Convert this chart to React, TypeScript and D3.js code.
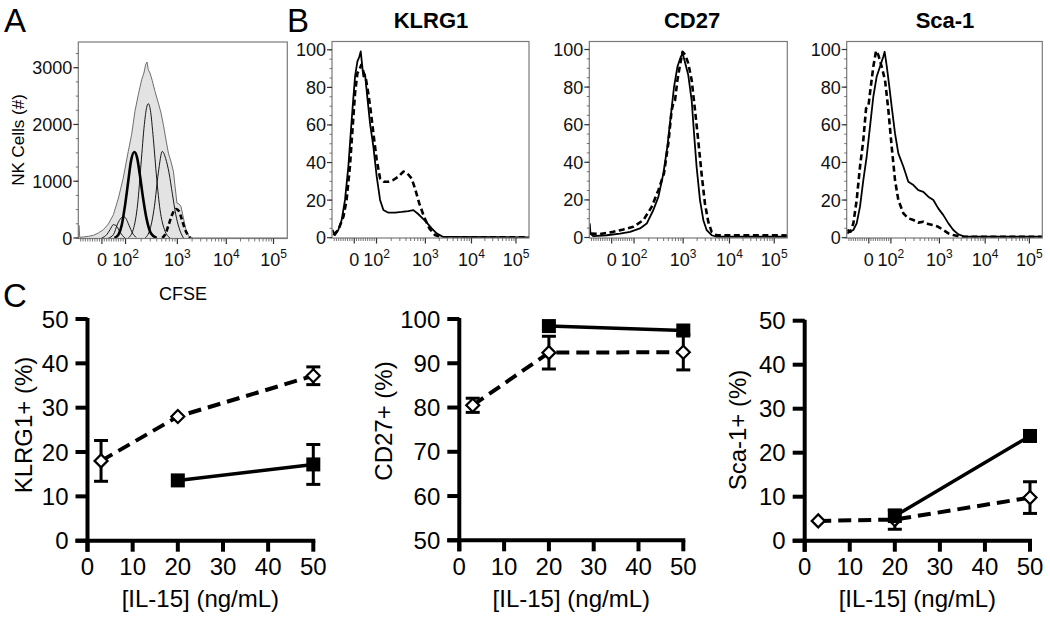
import React from "react";
import * as d3 from "d3";

type Pt = [number, number];
const FONT = "'Liberation Sans', Arial, Helvetica, sans-serif";

// ---------- Flow cytometry axis (biexponential display) ----------
const decadeLabels = [
  { base: "0", exp: "" },
  { base: "10", exp: "2" },
  { base: "10", exp: "3" },
  { base: "10", exp: "4" },
  { base: "10", exp: "5" },
];
const decadeValues = [0, 1e2, 1e3, 1e4, 1e5];
// display position (% of axis width) of each decade label
const decadeDisplay = [11.3, 22.6, 47.4, 70.8, 93.4];

// ---------- Panel A: CFSE (x in % of axis, y in cells) ----------
const cfseTotal: Pt[] = [[0,0],[0.3,223],[0.7,12],[2.4,18],[4.8,29],[7.2,47],[9.6,88],[12.0,147],[14.4,247],[16.8,411],[19.2,704],[21.5,1057],[23.9,1526],[25.5,1820],[27.1,2231],[28.7,2524],[30.3,2788],[31.4,2906],[32.2,3052],[32.9,3099],[33.5,2964],[34.3,2906],[35.4,2771],[36.7,2583],[38.3,2377],[39.6,2201],[40.7,1996],[41.8,1761],[43.1,1497],[44.4,1338],[45.5,1174],[46.3,910],[47.2,616],[48.2,599],[49.1,558],[50.3,352],[51.5,147],[52.9,29],[55.0,0],[100,0]];
const cfseGen5: Pt[] = [[11.2,0],[13.6,59],[15.2,147],[16.8,235],[18.4,205],[20.0,100],[22.3,0]];
const cfseGen4: Pt[] = [[14.4,0],[16.8,59],[18.8,250],[20.4,350],[21.5,382],[22.7,350],[24.3,220],[25.9,90],[27.9,0]];
const cfseGen3: Pt[] = [[17.3,0],[19.2,60],[20.8,230],[22.3,560],[23.9,1000],[25.2,1350],[26.8,1514],[28.1,1420],[29.5,1100],[31.0,700],[32.6,350],[34.8,80],[37.5,0]];
const cfseGen2: Pt[] = [[23.9,0],[26.3,150],[28.4,600],[30.0,1300],[31.6,2000],[32.7,2300],[33.5,2366],[34.5,2250],[35.9,1750],[37.5,1050],[39.1,500],[41.2,150],[43.9,0]];
const cfseGen1: Pt[] = [[31.9,0],[34.3,150],[36.4,550],[38.3,1150],[40.2,1526],[41.8,1400],[43.4,1150],[45.0,780],[46.6,420],[48.2,180],[50.3,0]];
const cfseGen0: Pt[] = [[40.2,0],[41.8,80],[43.4,250],[45.0,420],[46.8,510],[48.2,470],[49.5,330],[51.1,150],[53.5,0]];

// ---------- Panel B: histograms (% of max) ----------
const klrg1Solid: Pt[] = [[0.3,4.1],[1.5,1.4],[3.2,4.1],[4.9,9.4],[6.6,20.1],[8.3,37.8],[9.5,55.6],[10.5,69.8],[11.7,85.8],[12.9,93.8],[13.9,96.4],[14.6,99.1],[15.2,92.9],[15.9,85.8],[16.8,86.7],[17.9,75.1],[19.3,60.9],[21.0,48.5],[22.7,32.5],[24.4,20.1],[26.1,14.7],[28.6,13.3],[32.0,13.3],[35.4,13.7],[38.7,14.2],[41.3,14.7],[43.3,13.0],[45.5,10.8],[48.1,8.0],[50.6,5.0],[53.1,2.3],[56.5,0.4],[100,0.2]];
const klrg1Dashed: Pt[] = [[0.7,1.4],[3.2,4.1],[5.8,11.2],[7.4,20.1],[9.1,37.8],[10.5,59.1],[11.7,76.9],[12.9,87.6],[13.9,89.3],[14.9,92.0],[15.9,88.5],[17.3,84.0],[18.4,76.9],[19.6,68.0],[21.0,55.6],[22.7,41.4],[24.4,31.6],[26.4,29.8],[28.6,29.8],[31.1,30.7],[33.7,32.5],[36.2,35.2],[38.2,34.3],[40.4,31.6],[42.1,26.3],[44.3,18.3],[46.7,11.2],[49.4,5.0],[52.3,1.4],[55.7,0.2],[100,0.2]];
const cd27Solid: Pt[] = [[0.2,7.5],[0.6,2.0],[2.0,0.7],[8.8,1.2],[15.5,2.1],[20.6,3.0],[25.6,4.8],[29.0,7.4],[32.3,14.5],[34.9,21.6],[37.4,34.0],[39.4,48.2],[41.1,64.2],[42.8,80.1],[44.5,90.8],[46.2,96.1],[47.1,97.9],[48.3,93.4],[50.0,86.3],[51.7,73.0],[52.9,55.3],[54.2,37.6],[55.9,19.9],[57.6,9.2],[59.3,3.9],[61.8,1.2],[64.3,0.4],[100,0.4]];
const cd27Dashed: Pt[] = [[0.7,2.1],[5.4,1.8],[12.1,3.0],[17.2,4.3],[22.2,5.7],[27.3,9.2],[31.5,16.3],[34.9,25.2],[37.7,34.0],[39.9,50.0],[41.6,67.7],[42.4,71.3],[43.3,73.0],[44.5,83.7],[45.8,91.7],[47.1,98.8],[48.5,97.0],[50.0,92.6],[51.7,83.7],[53.4,67.7],[55.0,51.8],[56.7,34.0],[58.4,18.1],[60.1,8.3],[61.8,3.0],[64.3,1.2],[100,1.1]];
const sca1Solid: Pt[] = [[0.3,2.3],[1.7,3.2],[3.4,4.1],[5.1,7.6],[6.8,16.5],[8.5,30.6],[10.2,43.0],[11.9,58.9],[13.6,74.9],[15.3,85.5],[17.0,90.8],[18.7,96.1],[19.4,98.8],[20.4,91.7],[21.6,81.9],[23.0,69.6],[24.7,55.4],[26.4,44.8],[29.0,37.7],[31.5,29.7],[34.1,28.0],[36.6,25.3],[39.2,24.4],[41.7,21.8],[44.3,20.0],[46.8,15.6],[49.4,12.0],[52.0,7.6],[54.5,4.1],[57.1,1.8],[60.5,0.5],[100,0.5]];
const sca1Dashed: Pt[] = [[0.3,4.1],[2.0,3.2],[3.4,7.6],[5.1,20.0],[6.8,37.7],[8.5,51.9],[9.9,68.7],[11.1,69.9],[12.3,80.2],[13.6,90.8],[15.0,99.3],[16.2,97.0],[17.9,90.8],[19.6,83.7],[21.3,67.8],[23.0,48.3],[24.7,30.6],[26.4,20.0],[29.0,12.9],[31.5,10.3],[34.1,9.4],[36.6,8.0],[39.2,8.5],[41.7,7.3],[44.3,6.7],[46.8,5.8],[49.4,4.1],[52.0,2.3],[54.5,1.4],[58.0,0.5],[100,0.5]];

const yTicksA = [0, 1000, 2000, 3000];
const yTicksB = [0, 20, 40, 60, 80, 100];

// ---------- Panel C: dose response ----------
const doseOpen = [3, 20, 50];
const doseFilled = [20, 50];
const klrg1OpenMean = [18.0, 28.0, 37.2];
const klrg1OpenErr = [4.6, 0, 2.0];
const klrg1FilledMean = [13.6, 17.2];
const klrg1FilledErr = [0, 4.5];
const cd27OpenMean = [80.5, 92.4, 92.5];
const cd27OpenErr = [1.6, 3.7, 4.0];
const cd27FilledMean = [98.4, 97.4];
const cd27FilledErr = [0, 0];
const sca1OpenMean = [4.5, 4.8, 9.8];
const sca1OpenErr = [0, 2.2, 3.6];
const sca1FilledMean = [5.6, 23.8];
const sca1FilledErr = [0, 0];
const doseTicks = [0, 10, 20, 30, 40, 50];
const pctTicks50 = [0, 10, 20, 30, 40, 50];
const pctTicks100 = [50, 60, 70, 80, 90, 100];

// ---------- helpers ----------
const toDecadeUnit = (v: number) => (v <= 100 ? v / 100 : 1 + Math.log10(v / 100));
const displayScale = d3.scaleLinear().domain([0, 1, 2, 3, 4]).range(decadeDisplay);

const minorVals = [
  ...d3.range(-90, 100, 10).filter((v) => v !== 0),
  ...d3.range(200, 1000, 100),
  ...d3.range(2000, 10000, 1000),
  ...d3.range(20000, 100000, 10000),
];

type Curve = { data: Pt[]; width: number; dash?: string; color?: string; fill?: string; curve?: any };

function FlowPanel(props: {
  id: string; x0: number; x1: number; top: number; bottom: number;
  yZero: number; yRefPx: number; yRefVal: number; yTicks: number[]; yMinorStep: number;
  curves: Curve[]; title?: string; titleX?: number;
}) {
  const { id, x0, x1, top, bottom, yZero, yRefPx, yRefVal, yTicks, yMinorStep, curves } = props;
  const x = d3.scaleLinear().domain([0, 100]).range([x0, x1]);
  const y = d3.scaleLinear().domain([0, yRefVal]).range([yZero, yRefPx]);
  const yMaxVal = y.invert(top);
  const minorY = d3.range(0, yMaxVal, yMinorStep);
  return (
    <g>
      <defs>
        <clipPath id={id}>
          <rect x={x0} y={top} width={x1 - x0} height={bottom - top} />
        </clipPath>
      </defs>
      <g clipPath={`url(#${id})`}>
        {curves.map((c, i) => {
          const cv = c.curve || d3.curveMonotoneX;
          const line = d3.line<Pt>().x((d) => x(d[0])).y((d) => y(d[1])).curve(cv);
          const area = d3.area<Pt>().x((d) => x(d[0])).y0(y(0)).y1((d) => y(d[1])).curve(cv);
          return (
            <g key={i}>
              {c.fill && <path d={area(c.data) || ""} fill={c.fill} stroke="none" />}
              <path d={line(c.data) || ""} fill="none" stroke={c.color || "#000"} strokeWidth={c.width}
                strokeDasharray={c.dash} strokeLinejoin="round" />
            </g>
          );
        })}
      </g>
      <rect x={x0} y={top} width={x1 - x0} height={bottom - top} fill="none" stroke="#7a7a7a" strokeWidth={1.2} />
      {/* y ticks */}
      {minorY.map((v) => (
        <line key={"ym" + v} x1={x0 - 2.5} x2={x0} y1={y(v)} y2={y(v)} stroke="#555" strokeWidth={0.8} />
      ))}
      {yTicks.map((v) => (
        <g key={"y" + v}>
          <line x1={x0 - 5} x2={x0} y1={y(v)} y2={y(v)} stroke="#333" strokeWidth={1.2} />
          <text x={x0 - 6} y={y(v) + 6.5} textAnchor="end" fontSize={18} fill="#111">{v}</text>
        </g>
      ))}
      {/* x ticks */}
      {minorVals.map((v) => {
        const px = x(displayScale(toDecadeUnit(v)));
        if (px < x0 || px > x1) return null;
        return <line key={"xm" + v} x1={px} x2={px} y1={bottom} y2={bottom + 3} stroke="#555" strokeWidth={0.8} />;
      })}
      {decadeValues.map((v, i) => {
        const px = x(displayScale(toDecadeUnit(v)));
        const lab = decadeLabels[i];
        return (
          <g key={"xt" + v}>
            <line x1={px} x2={px} y1={bottom} y2={bottom + 5.5} stroke="#333" strokeWidth={1.2} />
            <text x={px} y={266} textAnchor="middle" fontSize={18} fill="#111">
              {lab.base}
              {lab.exp && <tspan fontSize={12} dy={-8}>{lab.exp}</tspan>}
            </text>
          </g>
        );
      })}
      {props.title && (
        <text x={props.titleX ?? (x0 + x1) / 2} y={28} textAnchor="middle" fontSize={22} fontWeight="bold">{props.title}</text>
      )}
    </g>
  );
}

function DosePanel(props: {
  x0: number; x1: number; yBottom: number; yTop: number; yDomain: [number, number]; yTicks: number[];
  openMean: number[]; openErr: number[]; filledMean: number[]; filledErr: number[];
  yTitle: string; yTitleX: number; yTitleY: number;
}) {
  const { x0, x1, yBottom, yTop, yDomain, yTicks, openMean, openErr, filledMean, filledErr } = props;
  const x = d3.scaleLinear().domain([0, 50]).range([x0, x1]);
  const y = d3.scaleLinear().domain(yDomain).range([yBottom, yTop]);
  const line = d3.line<Pt>().x((d) => x(d[0])).y((d) => y(d[1]));
  const openPts: Pt[] = doseOpen.map((d, i) => [d, openMean[i]]);
  const filledPts: Pt[] = doseFilled.map((d, i) => [d, filledMean[i]]);
  const ax = x(0);
  const ay = y(yDomain[0]);
  const errBar = (d: Pt, e: number, key: string) =>
    e > 0 ? (
      <g key={key} stroke="#000" strokeWidth={3}>
        <line x1={x(d[0])} x2={x(d[0])} y1={y(d[1] - e)} y2={y(d[1] + e)} />
        <line x1={x(d[0]) - 7} x2={x(d[0]) + 7} y1={y(d[1] - e)} y2={y(d[1] - e)} />
        <line x1={x(d[0]) - 7} x2={x(d[0]) + 7} y1={y(d[1] + e)} y2={y(d[1] + e)} />
      </g>
    ) : null;
  return (
    <g>
      {/* axes */}
      <line x1={ax} x2={ax} y1={ay + 11} y2={y(yDomain[1]) - 1} stroke="#000" strokeWidth={4} />
      <line x1={ax - 12} x2={x(50) + 2} y1={ay} y2={ay} stroke="#000" strokeWidth={4} />
      {yTicks.map((v) => (
        <g key={"y" + v}>
          <line x1={ax - 12} x2={ax} y1={y(v)} y2={y(v)} stroke="#000" strokeWidth={4} />
          <text x={ax - 19} y={y(v) + 8.6} textAnchor="end" fontSize={24}>{v}</text>
        </g>
      ))}
      {doseTicks.map((v) => (
        <g key={"x" + v}>
          <line x1={x(v)} x2={x(v)} y1={ay} y2={ay + 11} stroke="#000" strokeWidth={4} />
          <text x={x(v)} y={575} textAnchor="middle" fontSize={24}>{v}</text>
        </g>
      ))}
      <text x={(x0 + x1) / 2} y={607} textAnchor="middle" fontSize={24}>[IL-15] (ng/mL)</text>
      <text transform={`translate(${props.yTitleX},${props.yTitleY}) rotate(-90)`} textAnchor="middle" fontSize={24}>
        {props.yTitle}
      </text>
      {/* open diamonds, dashed */}
      <path d={line(openPts) || ""} fill="none" stroke="#000" strokeWidth={4} strokeDasharray="13 7" />
      {openPts.map((d, i) => errBar(d, openErr[i], "oe" + i))}
      {openPts.map((d, i) => (
        <path key={"o" + i} transform={`translate(${x(d[0])},${y(d[1])})`} d="M0,-6.5L6.5,0L0,6.5L-6.5,0Z"
          fill="#fff" stroke="#000" strokeWidth={2.2} />
      ))}
      {/* filled squares, solid */}
      <path d={line(filledPts) || ""} fill="none" stroke="#000" strokeWidth={3.5} />
      {filledPts.map((d, i) => errBar(d, filledErr[i], "fe" + i))}
      {filledPts.map((d, i) => (
        <rect key={"f" + i} x={x(d[0]) - 7} y={y(d[1]) - 7} width={14} height={14} fill="#000" />
      ))}
    </g>
  );
}

export default function App() {
  const thin = 0.9;
  return (
    <svg width={1050} height={623} viewBox="0 0 1050 623"
      style={{ position: "absolute", left: 0, top: 0, display: "block" }} fontFamily={FONT}>
      <rect width={1050} height={623} fill="#fff" />
      {/* letters */}
      <text x={4} y={32} fontSize={33}>A</text>
      <text x={287} y={32} fontSize={33}>B</text>
      <text x={3} y={307} fontSize={33}>C</text>

      {/* Panel A */}
      <FlowPanel id="clipA" x0={78.3} x1={287.3} top={42} bottom={238.5} yZero={238} yRefPx={67.7} yRefVal={3000}
        yTicks={yTicksA} yMinorStep={250}
        curves={[
          { data: cfseTotal, width: 1, color: "#6e6e6e", fill: "#e3e3e3", curve: d3.curveLinear },
          { data: cfseGen5, width: thin },
          { data: cfseGen4, width: thin },
          { data: cfseGen2, width: thin },
          { data: cfseGen1, width: thin },
          { data: cfseGen3, width: 2.6 },
          { data: cfseGen0, width: 2.6, dash: "5 3" },
        ]} />
      <text transform="translate(24,140) rotate(-90)" textAnchor="middle" fontSize={17}>NK Cells (#)</text>
      <text x={183} y={300} textAnchor="middle" fontSize={18}>CFSE</text>

      {/* Panel B */}
      <FlowPanel id="clipK" x0={332} x1={529} top={41.5} bottom={238} yZero={237.7} yRefPx={49.8} yRefVal={100}
        yTicks={yTicksB} yMinorStep={5} title="KLRG1" titleX={431}
        curves={[
          { data: klrg1Solid, width: 1.8, curve: d3.curveLinear },
          { data: klrg1Dashed, width: 2.6, dash: "6 3.5", curve: d3.curveLinear },
        ]} />
      <FlowPanel id="clipC" x0={589.3} x1={787.3} top={41.5} bottom={238} yZero={237.5} yRefPx={49.5} yRefVal={100}
        yTicks={yTicksB} yMinorStep={5} title="CD27" titleX={692}
        curves={[
          { data: cd27Solid, width: 1.8, curve: d3.curveLinear },
          { data: cd27Dashed, width: 2.6, dash: "6 3.5", curve: d3.curveLinear },
        ]} />
      <FlowPanel id="clipS" x0={846.7} x1={1042.3} top={41.5} bottom={238} yZero={237.7} yRefPx={49.5} yRefVal={100}
        yTicks={yTicksB} yMinorStep={5} title="Sca-1" titleX={945}
        curves={[
          { data: sca1Solid, width: 1.8, curve: d3.curveLinear },
          { data: sca1Dashed, width: 2.6, dash: "6 3.5", curve: d3.curveLinear },
        ]} />

      {/* Panel C */}
      <DosePanel x0={87.5} x1={313.3} yBottom={540.7} yTop={319} yDomain={[0, 50]} yTicks={pctTicks50}
        openMean={klrg1OpenMean} openErr={klrg1OpenErr} filledMean={klrg1FilledMean} filledErr={klrg1FilledErr}
        yTitle="KLRG1+ (%)" yTitleX={32} yTitleY={425} />
      <DosePanel x0={459.3} x1={683.3} yBottom={540.3} yTop={319} yDomain={[50, 100]} yTicks={pctTicks100}
        openMean={cd27OpenMean} openErr={cd27OpenErr} filledMean={cd27FilledMean} filledErr={cd27FilledErr}
        yTitle="CD27+ (%)" yTitleX={392} yTitleY={421} />
      <DosePanel x0={804.7} x1={1030} yBottom={540.7} yTop={320.7} yDomain={[0, 50]} yTicks={pctTicks50}
        openMean={sca1OpenMean} openErr={sca1OpenErr} filledMean={sca1FilledMean} filledErr={sca1FilledErr}
        yTitle="Sca-1+ (%)" yTitleX={746} yTitleY={430} />
    </svg>
  );
}
